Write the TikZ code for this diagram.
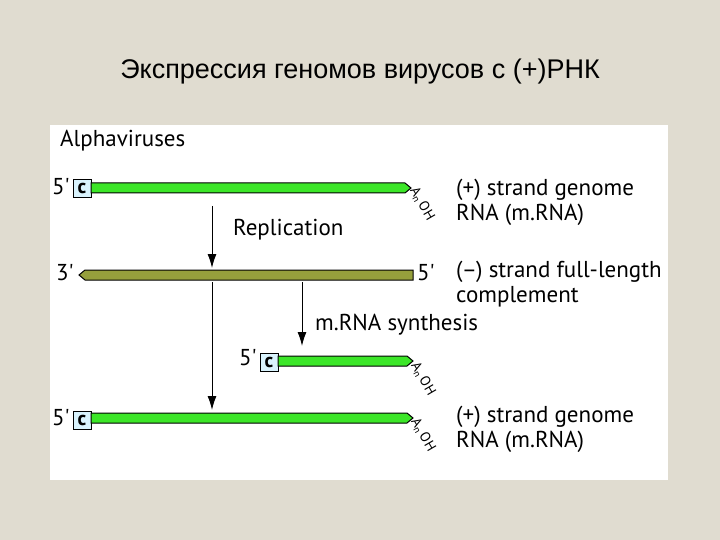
\documentclass[tikz,border=0pt]{standalone}
\usepackage{fontspec}
\setmainfont{Liberation Sans}
\newfontfamily\gill{PT Sans}
\usetikzlibrary{arrows.meta}
\begin{document}
\begin{tikzpicture}[x=1pt,y=-1pt,
  lbl/.style={font=\gill\fontsize{23}{26}\selectfont,anchor=west,inner sep=0},
  cbox/.style={draw=black,fill=cyan!15,line width=1pt,minimum width=18pt,minimum height=18pt,inner sep=0,font=\gill\bfseries\fontsize{20}{20}\selectfont},
  an/.style={font=\gill\fontsize{14}{14}\selectfont,rotate=-60,inner sep=0},
  dn/.style={-{Latex[length=14pt,width=9pt]},line width=1pt}]
\fill[fill={rgb,255:red,224;green,220;blue,208}] (0,0) rectangle (720,540);
\fill[white] (50,125) rectangle (668,480);
\node[font=\fontsize{27}{30}\selectfont] (title) at (360,72) {Экспрессия геномов вирусов с (+)РНК};
\node[lbl] (alpha) at (60,141) {Alphaviruses};
% bar1
\node[cbox] (c1) at (82,189) {c};
\draw[fill={rgb,255:red,60;green,230;blue,40},line width=1pt] (91,183) -- (405,183) -- (411,188) -- (405,193) -- (91,193) -- cycle;
\node[lbl] (p1) at (52,187) {5'};
\node[an] (a1) at (422,204) {A\textsubscript{n}\,OH};
% bar2
\draw[fill={rgb,255:red,150;green,160;blue,60},line width=1pt] (79,275) -- (85,270) -- (413,270) -- (413,280) -- (85,280) -- cycle;
\node[lbl] (p3) at (56,273) {3'};
\node[lbl] (p5) at (417,273) {5'};
% arrows
\coordinate (r1) at (212,206); \coordinate (r2) at (212,268);
\draw[dn] (r1) -- (r2);
\node[lbl] (rep) at (233,230) {Replication};
\coordinate (m1) at (212,282); \coordinate (m2) at (212,410);
\draw[dn] (m1) -- (m2);
\coordinate (s1) at (302,282); \coordinate (s2) at (302,346);
\draw[dn] (s1) -- (s2);
\node[lbl] (ms) at (315,325) {m.RNA synthesis};
% bar3
\node[cbox] (c3) at (269,362) {c};
\draw[fill={rgb,255:red,60;green,230;blue,40},line width=1pt] (278,356) -- (407,356) -- (413,361) -- (407,366) -- (278,366) -- cycle;
\node[lbl] (p53) at (239,358) {5'};
\node[an] (a3) at (423,379) {A\textsubscript{n}\,OH};
% bar4
\node[cbox] (c4) at (82,420) {c};
\draw[fill={rgb,255:red,60;green,230;blue,40},line width=1pt] (91,413) -- (407,413) -- (413,418) -- (407,423) -- (91,423) -- cycle;
\node[lbl] (p54) at (52,418) {5'};
\node[an] (a4) at (423,435) {A\textsubscript{n}\,OH};
% right labels
\node[lbl] (t1) at (456,190) {(+) strand genome};
\node[lbl] (t2) at (456,215) {RNA (m.RNA)};
\node[lbl] (t3) at (456,272) {(–) strand full-length};
\node[lbl] (t4) at (456,297) {complement};
\node[lbl] (t5) at (456,417) {(+) strand genome};
\node[lbl] (t6) at (456,442) {RNA (m.RNA)};
\end{tikzpicture}
\end{document}
